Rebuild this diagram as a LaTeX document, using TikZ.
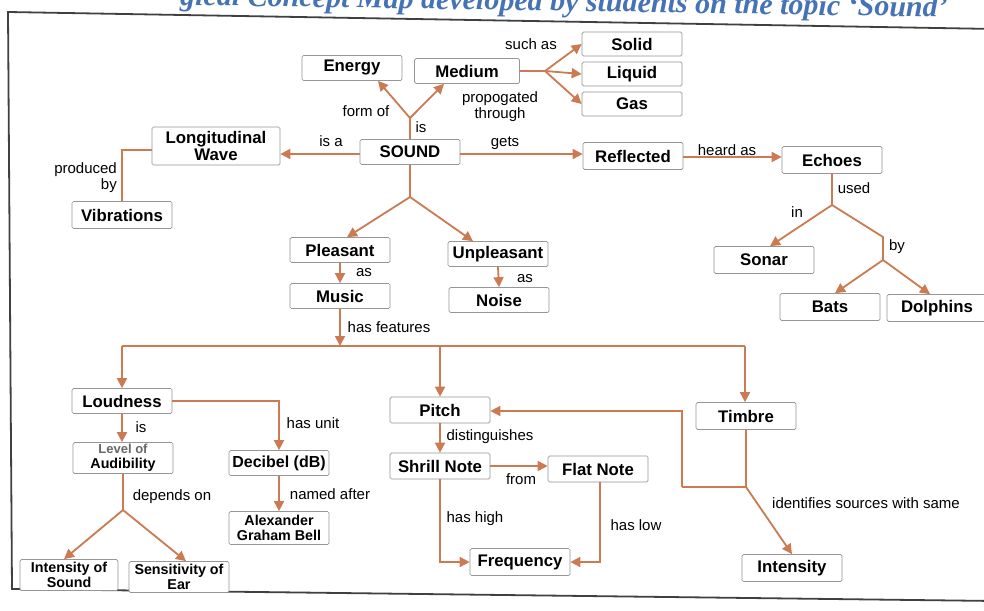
\documentclass[tikz,border=0pt]{standalone}
\usepackage{fontspec}
\setmainfont{Liberation Sans}
\newfontfamily\titlefont{Liberation Serif}
\usetikzlibrary{arrows.meta,calc}
\definecolor{conn}{RGB}{203,122,82}
\definecolor{boxline}{RGB}{150,150,150}
\definecolor{titleblue}{RGB}{70,115,180}
\tikzset{
  box/.style={draw=boxline, line width=0.7pt, rounded corners=1.5pt, fill=white,
    minimum width=100pt, minimum height=25pt, inner sep=1pt, align=center,
    font=\fontsize{16.8}{17.5}\selectfont\bfseries},
  smallbox/.style={box, font=\fontsize{14.3}{15}\selectfont\bfseries, minimum height=31pt},
  lbl/.style={font=\fontsize{15}{16}\selectfont, inner sep=0pt, align=center},
  conn/.style={draw=conn, line width=1.8pt},
  arr/.style={conn, -{Triangle[length=10pt,width=10pt]}}
}
\begin{document}
\begin{tikzpicture}[x=1pt,y=-1pt]
\useasboundingbox (0,0) rectangle (984,610);
\fill[white] (0,0) rectangle (984,610);
% title (cut off by the top edge, as in the reference)
\node[anchor=base west, text=titleblue, font=\titlefont\fontsize{30}{31}\selectfont\bfseries\itshape, inner sep=0pt, rotate=-0.9] (title) at (180,5) {gical Concept Map developed by students on the topic ‘Sound’};
% frame
\draw[line width=1.8pt, draw=black!75] (995,29) -- (8,12) -- (12,589) -- (995,601);
% nodes
\node[box] (energy) at (352,68) {Energy};
\node[box, minimum width=105pt] (medium) at (467,71) {Medium};
\node[box, minimum height=24pt] (solid) at (632,44) {Solid};
\node[box, minimum height=24pt] (liquid) at (632,74) {Liquid};
\node[box, minimum height=24pt] (gas) at (632,104) {Gas};
\node[box] (sound) at (410,152) {SOUND};
\node[box, minimum width=128pt, minimum height=38pt] (long) at (216,146) {Longitudinal\\Wave};
\node[box, minimum height=27pt] (vib) at (122,215) {Vibrations};
\node[box, minimum height=27pt] (refl) at (633,156) {Reflected};
\node[box, minimum height=27pt] (echo) at (832,160) {Echoes};
\node[box, minimum height=27pt] (sonar) at (764,260) {Sonar};
\node[box, minimum height=27pt] (bats) at (830,307) {Bats};
\node[box, minimum height=27pt] (dolph) at (937,308) {Dolphins};
\node[box] (pleas) at (340,250) {Pleasant};
\node[box] (unpl) at (498,254) {Unpleasant};
\node[box] (music) at (340,296) {Music};
\node[box] (noise) at (499,300) {Noise};
\node[box] (loud) at (122,401) {Loudness};
\node[smallbox] (level) at (123,458) {{\color{black!60}\fontsize{13}{14}\selectfont Level of}\\Audibility};
\node[box, font=\fontsize{16}{17}\selectfont\bfseries] (dec) at (279,463) {Decibel (dB)};
\node[smallbox, minimum height=33pt] (agb) at (279,528) {Alexander\\Graham Bell};
\node[smallbox, minimum width=98pt] (ios) at (69,575) {Intensity of\\Sound};
\node[smallbox] (soe) at (179,577) {Sensitivity of\\Ear};
\node[box, minimum height=26pt] (pitch) at (440,410) {Pitch};
\node[box, minimum height=27pt] (timb) at (746,416) {Timbre};
\node[box, minimum height=26pt] (shrill) at (440,466) {Shrill Note};
\node[box, minimum height=26pt] (flat) at (598,469) {Flat Note};
\node[box, minimum height=27pt] (freq) at (520,562) {Frequency};
\node[box, minimum height=27pt] (inten) at (792,568) {Intensity};
% junction coordinates
\coordinate (j1) at (410,118);
\coordinate (j2) at (545,71);
\coordinate (j3) at (832,205);
\coordinate (j4) at (883,237);
\coordinate (j5) at (883,260);
\coordinate (j6) at (410,197);
\coordinate (bl) at (122,346);
\coordinate (bm) at (440,346);
\coordinate (br) at (745,346);
\coordinate (j7) at (123,510);
\coordinate (j8) at (746,487);
\coordinate (j9) at (682,487);
% connectors
\draw[conn] (sound.north) -- (j1);
\draw[arr] (j1) -- ([xshift=26pt]energy.south);
\draw[arr] (j1) -- ([xshift=-23pt]medium.south);
\draw[conn] (medium.east) -- (j2);
\draw[arr] (j2) -- (solid.west);
\draw[arr] (j2) -- (liquid.west);
\draw[arr] (j2) -- (gas.west);
\draw[arr] ([yshift=-2pt]sound.west) -- ([yshift=-2pt]sound.west -| long.east);
\draw[conn] ([yshift=-4pt,xshift=0.5pt]long.west) -| (vib.north);
\draw[arr] ([yshift=-2pt]sound.east) -- ([yshift=-2pt]sound.east -| refl.west);
\draw[arr] ([yshift=-1pt]refl.east) -- ([yshift=-1pt]refl.east -| echo.west);
\draw[conn] (echo.south) -- (j3);
\draw[arr] (j3) -- ([xshift=6pt]sonar.north);
\draw[conn] (j3) -- (j4) -- (j5);
\draw[arr] (j5) -- ([xshift=5pt]bats.north);
\draw[arr] (j5) -- ([xshift=-7pt]dolph.north);
\draw[conn] (sound.south) -- (j6);
\draw[arr] (j6) -- ([xshift=7pt]pleas.north);
\draw[arr] (j6) -- ([xshift=-25pt]unpl.north);
\draw[arr] (pleas.south) -- (music.north);
\draw[arr] (unpl.south) -- (noise.north);
\draw[arr] (music.south) -- (music.south |- bl);
\draw[conn] (bl) -- (br);
\draw[arr] (bl) -- (loud.north);
\draw[arr] (bm) -- (pitch.north);
\draw[arr] (br) -- (br |- timb.north);
\draw[arr] (loud.east) -| (dec.north);
\draw[arr] (loud.south) -- (loud.south |- level.north);
\draw[conn] (level.south) -- (j7);
\draw[arr] (j7) -- ([xshift=-5pt]ios.north);
\draw[arr] (j7) -- ([xshift=7pt]soe.north);
\draw[arr] (dec.south) -- (agb.north);
\draw[arr] (pitch.south) -- (shrill.north);
\draw[arr] (shrill.east) -- (shrill.east -| flat.west);
\draw[arr] (shrill.south) |- (freq.west);
\draw[arr] ([xshift=2pt]flat.south) |- (freq.east);
\draw[conn] (timb.south) -- (j8) -- (j9);
\draw[arr] (j9) |- ([yshift=-1pt]pitch.east);
\draw[arr] (j8) -- (inten.north);
% labels
\node[lbl] (l1) at (366,111) {form of};
\node[lbl] (l2) at (421,127) {is};
\node[lbl] (l3) at (531,44) {such as};
\node[lbl] (l4) at (500,107) {propogated\\through};
\node[lbl] (l5) at (331,141) {is a};
\node[lbl, align=right, anchor=east] (l6) at (117,178) {produced\\by};
\node[lbl] (l7) at (505,143) {gets};
\node[lbl] (l8) at (727,150) {heard as};
\node[lbl] (l9) at (854,188) {used};
\node[lbl] (l10) at (797,212) {in};
\node[lbl] (l11) at (897,247) {by};
\node[lbl] (l12) at (364,273) {as};
\node[lbl] (l13) at (525,279) {as};
\node[lbl] (l14) at (389,327) {has features};
\node[lbl] (l15) at (141,427) {is};
\node[lbl] (l16) at (313,423) {has unit};
\node[lbl] (l17) at (172,497) {depends on};
\node[lbl] (l18) at (330,494) {named after};
\node[lbl] (l19) at (490,437) {distinguishes};
\node[lbl] (l20) at (521,479) {from};
\node[lbl] (l21) at (475,519) {has high};
\node[lbl] (l22) at (636,525) {has low};
\node[lbl] (l23) at (866,503) {identifies sources with same};
\end{tikzpicture}
\end{document}
